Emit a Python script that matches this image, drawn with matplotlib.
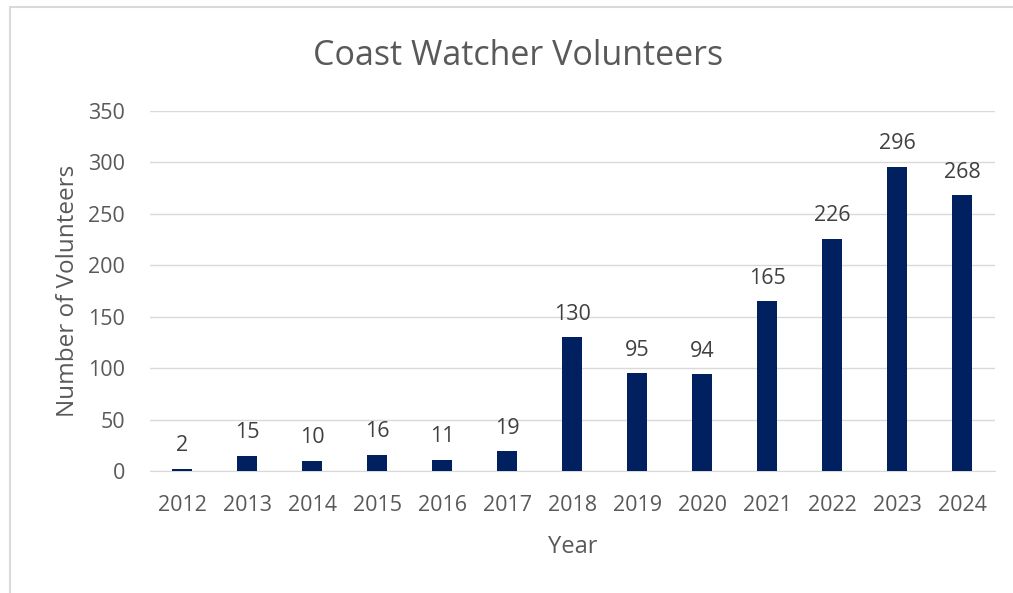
import numpy as np
import matplotlib.pyplot as plt
from matplotlib.patches import Rectangle

years = ['2012', '2013', '2014', '2015', '2016', '2017', '2018',
         '2019', '2020', '2021', '2022', '2023', '2024']
volunteers = [2, 15, 10, 16, 11, 19, 130, 95, 94, 165, 226, 296, 268]
y_ticks = [0, 50, 100, 150, 200, 250, 300, 350]

text_color = '#595959'
plt.rcParams['font.family'] = ['Open Sans', 'DejaVu Sans']

fig = plt.figure(figsize=(10.13, 5.93), dpi=100)
ax = fig.add_axes([0.148, 0.2057, 0.834, 0.6071])

x = np.arange(len(years))
bars = ax.bar(x, volunteers, width=0.31, color='#002060', zorder=3)

for xi, v in zip(x, volunteers):
    ax.annotate(str(v), (xi, v), xytext=(0, 9), textcoords='offset points',
                ha='center', va='bottom', fontsize=15.5, color='#404040')

ax.set_xlim(-0.5, len(years) - 0.5)
ax.set_ylim(0, 350)
ax.set_yticks(y_ticks)
ax.set_xticks(x)
ax.set_xticklabels(years)
ax.tick_params(axis='both', length=0, labelsize=15.5, labelcolor=text_color)
ax.tick_params(axis='y', pad=18)
ax.tick_params(axis='x', pad=17)
ax.grid(axis='y', color='#d9d9d9', linewidth=1, zorder=0)
for s in ['top', 'right', 'left']:
    ax.spines[s].set_visible(False)
ax.spines['bottom'].set_color('#d9d9d9')

ax.set_xlabel('Year', fontsize=17, color=text_color, labelpad=14)
ax.set_ylabel('Number of Volunteers', fontsize=17.5, color=text_color, labelpad=6)
fig.text(0.511, 0.905, 'Coast Watcher Volunteers', ha='center', va='center',
         fontsize=24.5, color=text_color)

# outer chart frame
fig.patches.append(Rectangle((10 / 1013, -0.1), 1.2, (593 - 7) / 593 + 0.1,
                             transform=fig.transFigure, fill=False,
                             edgecolor='#d9d9d9', linewidth=1.5))

fig.savefig('out.png', dpi=100)
